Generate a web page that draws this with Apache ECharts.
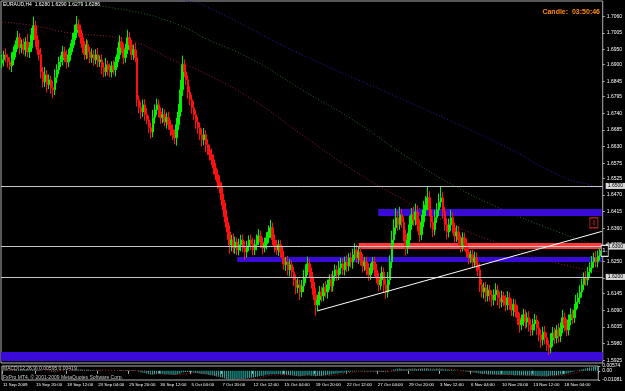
<!DOCTYPE html>
<html><head><meta charset="utf-8">
<script src="https://cdn.jsdelivr.net/npm/echarts@6/dist/echarts.min.js"></script>
<style>html,body{margin:0;padding:0;background:#000;}#c{width:625px;height:391px;}</style>
</head><body><div id="c"></div>
<script>
// ---------------- DATA ----------------
const symbolName = 'EURAUD,H4';
const firstOpen = 1.6905;
const closes = [
1.6916,1.6932,1.6923,1.6909,1.6896,1.6916,1.6942,1.6966,1.6989,1.6956,
1.6966,1.6949,1.6975,1.6942,1.6956,1.6999,1.7028,1.6982,1.6949,1.6933,
1.6876,1.6843,1.6867,1.6834,1.6850,1.6824,1.6817,1.6857,1.6883,1.6909,
1.6916,1.6942,1.6923,1.6909,1.6933,1.6956,1.6982,1.7005,1.7032,1.7015,
1.6989,1.6956,1.6933,1.6966,1.6942,1.6923,1.6933,1.6916,1.6933,1.6909,
1.6916,1.6890,1.6876,1.6900,1.6883,1.6876,1.6896,1.6883,1.6909,1.6933,
1.6975,1.6956,1.6923,1.6949,1.6989,1.6966,1.6933,1.6949,1.6923,1.6784,
1.6758,1.6744,1.6768,1.6735,1.6718,1.6692,1.6678,1.6725,1.6751,1.6768,
1.6744,1.6725,1.6735,1.6711,1.6725,1.6702,1.6685,1.6669,1.6659,1.6702,
1.6744,1.6817,1.6900,1.6876,1.6850,1.6810,1.6784,1.6758,1.6735,1.6711,
1.6692,1.6669,1.6652,1.6669,1.6636,1.6619,1.6603,1.6586,1.6560,1.6537,
1.6513,1.6494,1.6454,1.6421,1.6381,1.6348,1.6306,1.6322,1.6296,1.6315,
1.6289,1.6306,1.6322,1.6296,1.6282,1.6302,1.6322,1.6309,1.6289,1.6306,
1.6322,1.6335,1.6315,1.6296,1.6309,1.6329,1.6348,1.6362,1.6322,1.6302,
1.6289,1.6306,1.6282,1.6263,1.6240,1.6249,1.6223,1.6240,1.6216,1.6190,
1.6164,1.6174,1.6150,1.6170,1.6197,1.6223,1.6243,1.6216,1.6183,1.6141,
1.6108,1.6124,1.6150,1.6137,1.6164,1.6150,1.6174,1.6190,1.6170,1.6203,
1.6223,1.6207,1.6230,1.6243,1.6223,1.6249,1.6236,1.6263,1.6249,1.6273,
1.6289,1.6263,1.6282,1.6256,1.6236,1.6249,1.6223,1.6207,1.6230,1.6249,
1.6223,1.6197,1.6174,1.6190,1.6216,1.6174,1.6150,1.6190,1.6249,1.6322,
1.6362,1.6395,1.6372,1.6405,1.6381,1.6339,1.6296,1.6322,1.6372,1.6405,
1.6388,1.6414,1.6372,1.6339,1.6381,1.6421,1.6438,1.6461,1.6421,1.6381,
1.6355,1.6395,1.6421,1.6447,1.6461,1.6414,1.6372,1.6348,1.6372,1.6395,
1.6362,1.6335,1.6348,1.6322,1.6302,1.6329,1.6306,1.6282,1.6263,1.6273,
1.6249,1.6263,1.6240,1.6223,1.6174,1.6150,1.6164,1.6137,1.6157,1.6141,
1.6124,1.6141,1.6157,1.6131,1.6117,1.6137,1.6124,1.6108,1.6131,1.6111,
1.6091,1.6108,1.6084,1.6065,1.6042,1.6058,1.6075,1.6051,1.6065,1.6042,
1.6025,1.6045,1.6058,1.6032,1.6009,1.5992,1.6018,1.5999,1.5976,1.5966,
1.5992,1.6015,1.5999,1.6025,1.6005,1.6032,1.6065,1.6042,1.6025,1.6058,
1.6075,1.6065,1.6091,1.6117,1.6131,1.6150,1.6174,1.6197,1.6190,1.6216,
1.6230,1.6249,1.6263,1.6249,1.6269,1.6280,1.6286];
// upper / lower shadow lengths in pips (beyond the body)
const wickHi = [
18,14,22,12,16,25,18,14,22,15, 17,20,15,26,18,22,30,17,15,18, 22,17,25,15,18,14,22,28,18,17,
15,20,17,24,18,15,22,26,28,18, 17,15,22,18,14,17,20,15,18,22, 15,18,17,22,14,20,15,18,17,24,
22,17,15,20,26,18,15,17,22,18, 15,20,17,18,22,15,17,26,18,20, 17,15,22,18,17,20,15,18,17,22,
26,32,30,17,20,15,18,17,22,15, 18,17,20,22,15,18,17,20,18,15, 17,22,18,20,24,18,22,17,20,18,
15,20,17,18,22,17,15,18,20,17, 18,22,17,15,20,18,22,26,17,18, 20,17,15,18,22,17,20,18,15,17,
18,22,17,20,26,18,24,17,15,18, 22,17,20,18,15,22,17,18,20,17, 18,15,22,20,17,18,22,15,18,20,
22,17,18,15,20,17,18,22,15,17, 18,20,17,22,18,15,20,26,22,30, 28,32,22,26,20,18,17,24,30,22,
26,28,22,18,24,30,28,36,22,18, 20,26,22,28,38,18,17,22,20,26, 18,17,22,20,15,18,17,20,18,15,
17,20,18,15,22,18,17,20,18,17, 15,18,22,17,20,18,15,17,22,18, 17,20,18,22,15,18,20,17,18,22,
18,17,20,15,22,18,17,20,18,15, 22,20,18,17,22,18,26,17,20,18, 22,18,20,24,17,22,20,18,22,17,
18,20,17,22,18,15,4];
const wickLo = [
17,22,15,18,14,20,17,18,15,22, 18,15,22,17,20,14,18,24,17,20, 22,18,17,26,15,20,28,17,18,15,
17,18,15,22,17,20,15,18,17,22, 20,18,17,15,22,18,17,20,15,18, 17,22,18,15,20,17,18,15,22,17,
15,18,22,17,14,20,18,17,15,22, 18,22,17,20,15,18,22,17,20,18, 17,20,18,15,22,17,20,18,22,26,
18,15,20,17,18,22,17,20,18,22, 20,17,22,18,24,17,20,18,22,18, 22,18,20,24,18,26,30,22,18,20,
17,18,22,15,26,18,17,20,18,17, 18,17,20,22,15,18,17,20,18,22, 17,20,18,22,17,20,18,22,17,20,
22,18,26,17,20,18,17,20,22,18, 36,22,18,20,17,18,22,17,20,18, 17,20,18,22,17,18,20,17,18,22,
18,17,20,18,22,17,18,20,17,18, 20,18,22,17,20,26,22,18,17,20, 18,22,20,17,18,22,26,20,18,17,
20,18,22,24,18,17,20,18,22,20, 24,18,17,20,18,22,20,24,18,20, 18,22,20,18,22,18,20,17,22,18,
20,18,22,20,24,18,22,20,18,22, 22,18,20,24,22,18,20,22,18,20, 20,22,18,24,26,18,20,22,18,22,
20,18,22,24,22,26,18,22,20,24, 18,22,20,18,22,20,18,22,20,18, 18,20,17,18,22,20,18,17,20,18,
17,18,20,17,18,15,1];
// MACD(12,26,9) main values, in units of 0.0001
const macdMain = [
8,10,9,7,6,8,10,12,15,14, 14,13,14,13,13,15,18,16,13,11, 6,1,0,-3,-4,-7,-9,-8,-5,-2,
1,4,4,4,5,7,10,14,18,18, 17,14,12,13,12,10,9,8,8,6, 6,4,2,2,1,0,0,0,1,3,
6,7,6,7,10,10,9,9,8,-2, -10,-17,-21,-26,-31,-37,-42,-42,-41,-39, -38,-38,-38,-39,-39,-40,-42,-45,-48,-46,
-41,-33,-22,-16,-13,-13,-14,-17,-20,-24, -28,-32,-36,-37,-40,-44,-48,-52,-56,-61, -66,-70,-76,-82,-89,-95,-102,-104,-107,-106,
-106,-104,-100,-98,-96,-92,-88,-85,-82,-78, -74,-69,-65,-61,-57,-52,-47,-42,-41,-40, -39,-37,-38,-40,-43,-45,-48,-49,-52,-55,
-59,-61,-64,-64,-62,-58,-53,-52,-53,-57, -62,-63,-62,-61,-58,-56,-53,-49,-47,-43, -38,-35,-31,-27,-25,-21,-19,-16,-14,-11,
-8,-7,-5,-5,-6,-6,-7,-8,-8,-7, -7,-8,-10,-11,-10,-12,-14,-12,-7,0, 8,15,19,25,27,26,22,20,21,24,
25,27,25,22,22,24,26,29,28,24, 19,19,20,23,26,25,21,17,15,15, 13,9,7,4,1,0,-2,-5,-8,-10,
-13,-15,-18,-20,-25,-30,-33,-37,-38,-40, -42,-43,-43,-44,-45,-45,-45,-46,-45,-45, -46,-46,-47,-49,-52,-53,-52,-53,-53,-54,
-55,-55,-54,-55,-57,-60,-59,-60,-62,-64, -63,-60,-58,-55,-54,-51,-46,-44,-42,-37, -32,-28,-22,-15,-9,-2,6,13,17,23,
29,35,39,41,45,50,60];
// MACD signal line (read at sample bars), units of 0.0001
const signalBars = [0,10,20,30,40,50,60,70,80,90,100,110,120,130,140,150,160,170,180,190,200,210,220,230,240,250,260,270,280,290,300,306];
const signalVals = [5,10,12,2,9,9,4,2,-32,-42,-22,-52,-98,-90,-47,-50,-56,-50,-16,-8,-6,19,25,17,-3,-35,-45,-53,-60,-45,8,42];
// moving averages (read at sample bars)
const maRedBars = [0,17,34,56,68,77,87,102,128,153,179,205,230,256,281,306];
const maRedVals = [1.7041,1.7028,1.7005,1.6992,1.6975,1.6949,1.6916,1.6876,1.6784,1.6669,1.6553,1.6454,1.6371,1.6305,1.6249,1.6216];
const maGreenBars = [25,31,45,56,68,80,96,102,128,153,179,205,230,256,281,306];
const maGreenVals = [1.7135,1.7114,1.7098,1.7088,1.7074,1.7055,1.7015,1.6992,1.6916,1.6817,1.6718,1.6603,1.6503,1.6421,1.6355,1.6296];
const maBlueBars = [85,92,102,153,205,256,286,302,306];
const maBlueVals = [1.7135,1.7114,1.7098,1.6933,1.6784,1.6632,1.6530,1.6500,1.6490];
// objects
const hLevels = [1.6500, 1.6300, 1.6200];
const purpleBoxes = [[192, 306, 1.6401, 1.6424], [120, 306, 1.6249, 1.6266]];
const purpleBand = [1.5923, 1.5952];
const redBox = [182, 306, 1.6292, 1.6312];
const trendFrom = [161, 1.6088];
const trendTo = [306, 1.6350];
const arrowMark = [302, 1.6378];
// axis tick labels
const priceTicks = [1.7060,1.7005,1.6950,1.6900,1.6845,1.6795,1.6740,1.6685,1.6630,1.6575,1.6525,1.6470,1.6415,1.6360,1.6305,1.6250,1.6195,1.6145,1.6090,1.6035,1.5980,1.5925];
const macdTicks = [0.00574, 0, -0.01081];
const timeTicks = ['11 Sep 2009','15 Sep 20:00','18 Sep 12:00','23 Sep 04:00','25 Sep 20:00','30 Sep 12:00','5 Oct 04:00','7 Oct 20:00','12 Oct 12:00','15 Oct 04:00','19 Oct 20:00','22 Oct 12:00','27 Oct 04:00','29 Oct 20:00','3 Nov 12:00','6 Nov 04:00','10 Nov 20:00','13 Nov 12:00','18 Nov 04:00'];
const macdText = ['0.00595', '0.00419'];
const timerText = 'Candle:  03:50:46';

// ---------------- BUILD ----------------
const MON = ['Jan','Feb','Mar','Apr','May','Jun','Jul','Aug','Sep','Oct','Nov','Dec'];
const n = closes.length;
const cats = [];
let t = Date.UTC(2009, 8, 11, 0);
while (cats.length < n) {
  const d = new Date(t);
  const wd = d.getUTCDay();
  if (wd !== 0 && wd !== 6) {
    cats.push(d.getUTCDate() + ' ' + MON[d.getUTCMonth()] + ' ' + String(d.getUTCHours()).padStart(2,'0') + ':00');
  }
  t += 4 * 3600 * 1000;
}
const tickMap = {};
timeTicks.forEach((s, k) => { const idx = k === 0 ? 0 : cats.indexOf(s); if (idx >= 0) tickMap[idx] = s; });

const candles = closes.map((c, i) => {
  const o = i === 0 ? firstOpen : closes[i - 1];
  const hi = Math.max(o, c) + (wickHi[i] || 0) / 10000;
  const lo = Math.min(o, c) - (wickLo[i] || 0) / 10000;
  return [o, c, +lo.toFixed(4), +hi.toFixed(4)];
});
const last = candles[n - 1];
const header = symbolName + '  ' + [last[0], last[3], last[2], last[1]].map(v => v.toFixed(4)).join(' ');
const macdData = macdMain.map(v => v / 10000);
const signalData = signalBars.map((b, k) => [b, signalVals[k] / 10000]);
const pairs = (bs, vs) => bs.map((b, k) => [b, vs[k]]);
const macdLabel = 'MACD(12,26,9) ' + macdText.join(' ');

const Y_MAX = 1.7110, Y_MIN = 1.5916;
const FONT = 'Liberation Sans';
const hlLabel = {
  show: true, position: 'end', distance: 3, formatter: p => p.value.toFixed(4),
  color: '#000', backgroundColor: '#d8d8d8', fontSize: 5, fontFamily: FONT, padding: [1, 2, 0, 2]
};

const chart = echarts.init(document.getElementById('c'), null, { renderer: 'canvas' });
chart.setOption({
  backgroundColor: '#000',
  animation: false,
  textStyle: { fontFamily: FONT },
  grid: [
    { left: 1, right: 21, top: 1, height: 362, show: true, borderColor: '#b0b0b0', borderWidth: 1, backgroundColor: 'transparent' },
    { left: 1, right: 21, top: 366, height: 14, show: true, borderColor: '#b0b0b0', borderWidth: 1, backgroundColor: 'transparent' }
  ],
  xAxis: [
    { type: 'category', gridIndex: 0, data: cats, boundaryGap: true,
      axisLine: { show: false }, axisTick: { show: false }, axisLabel: { show: false }, splitLine: { show: false } },
    { type: 'category', gridIndex: 1, data: cats, boundaryGap: true,
      axisLine: { show: false },
      axisTick: { show: true, interval: (i) => tickMap[i] !== undefined, length: 3, lineStyle: { color: '#b0b0b0' } },
      axisLabel: { show: true, interval: (i) => tickMap[i] !== undefined, formatter: (v, i) => tickMap[i] || '',
        color: '#fff', fontSize: 4.4, fontFamily: FONT, align: 'left', margin: 3 },
      splitLine: { show: false } }
  ],
  yAxis: [
    { type: 'value', gridIndex: 0, position: 'right', min: Y_MIN, max: Y_MAX, scale: true,
      axisLine: { show: false }, splitLine: { show: false },
      axisTick: { show: true, customValues: priceTicks, length: 2, lineStyle: { color: '#b0b0b0' } },
      axisLabel: { show: true, customValues: priceTicks, formatter: v => v.toFixed(4), color: '#fff', fontSize: 5, fontFamily: FONT, margin: 4 } },
    { type: 'value', gridIndex: 1, position: 'right', min: -0.01081, max: 0.00574,
      axisLine: { show: false }, splitLine: { show: false },
      axisTick: { show: true, customValues: macdTicks, length: 2, lineStyle: { color: '#b0b0b0' } },
      axisLabel: { show: true, customValues: macdTicks, formatter: v => v === 0 ? '0.00' : v.toFixed(5), color: '#fff', fontSize: 5, fontFamily: FONT, margin: 4 } }
  ],
  series: [
    { type: 'line', xAxisIndex: 0, yAxisIndex: 0, data: pairs(maBlueBars, maBlueVals), symbol: 'none', smooth: true,
      lineStyle: { color: '#1c1ca8', width: 1, type: [1, 2] }, z: 1 },
    { type: 'line', xAxisIndex: 0, yAxisIndex: 0, data: pairs(maGreenBars, maGreenVals), symbol: 'none', smooth: true,
      lineStyle: { color: '#1f6a2a', width: 1, type: [1, 2] }, z: 1 },
    { type: 'line', xAxisIndex: 0, yAxisIndex: 0, data: pairs(maRedBars, maRedVals), symbol: 'none', smooth: true,
      lineStyle: { color: '#9a1c2a', width: 1, type: [1, 2] }, z: 1 },
    { type: 'candlestick', xAxisIndex: 0, yAxisIndex: 0, data: candles, barWidth: 2, z: 3,
      itemStyle: { color: '#00f000', color0: '#ff1010', borderColor: '#00f000', borderColor0: '#ff1010', borderWidth: 1 },
      markArea: { silent: true, z: 2,
        data: [
          ...purpleBoxes.map(b => [{ coord: [b[0], b[3]], itemStyle: { color: '#3a0ad8' } }, { coord: [b[1], b[2]] }]),
          [{ yAxis: purpleBand[1], itemStyle: { color: '#3a0ad8' } }, { yAxis: purpleBand[0] }],
          [{ coord: [redBox[0], redBox[3]], itemStyle: { color: '#ff3a3a' } }, { coord: [redBox[1], redBox[2]] }]
        ] },
      markLine: { silent: true, symbol: 'none', z: 4, animation: false,
        data: [
          ...hLevels.map(v => ({ yAxis: v, lineStyle: { color: '#c8c8c8', width: 1, type: 'solid' }, label: hlLabel })),
          { yAxis: last[1], lineStyle: { opacity: 0 }, label: Object.assign({}, hlLabel, { backgroundColor: '#ffffff' }) },
          [{ coord: trendFrom, lineStyle: { color: '#ffffff', width: 1, type: 'solid' }, label: { show: false } }, { coord: trendTo }]
        ] },
      markPoint: { silent: true, z: 5,
        data: [
          { coord: arrowMark, symbol: 'rect', symbolSize: [8, 10],
            itemStyle: { color: '#000', borderColor: '#d02020', borderWidth: 1 },
            label: { show: true, formatter: '⇩', color: '#ff3030', fontSize: 7, position: 'inside' } },
          { coord: [n - 1, last[1]], symbol: 'rect', symbolSize: [7, 11], symbolOffset: [3, 0],
            itemStyle: { color: '#000', borderColor: '#e0e0e0', borderWidth: 1 },
            label: { show: true, formatter: '1.', color: '#fff', fontSize: 6, position: 'inside' } }
        ] }
    },
    { type: 'bar', xAxisIndex: 1, yAxisIndex: 1, data: macdData, barWidth: 1, itemStyle: { color: '#22b5ad' } },
    { type: 'line', xAxisIndex: 1, yAxisIndex: 1, data: signalData, symbol: 'none', smooth: true,
      lineStyle: { color: '#d01818', width: 1, type: [1, 2] } }
  ],
  graphic: [
    { type: 'text', left: 3, top: 2, style: { text: header, fill: '#fff', fontSize: 5, fontFamily: FONT } },
    { type: 'text', right: 25, top: 9, style: { text: timerText, fill: '#ff8c00', fontSize: 7, fontWeight: 'bold', fontFamily: FONT } },
    { type: 'text', left: 3, top: 366, style: { text: macdLabel, fill: '#c8c8c8', fontSize: 5, fontFamily: FONT } },
    { type: 'text', left: 3, top: 375, style: { text: 'FxPro MT4, © 2001-2009 MetaQuotes Software Corp.', fill: '#c8c8c8', fontSize: 5, fontFamily: FONT } }
  ]
});
</script>
</body></html>
